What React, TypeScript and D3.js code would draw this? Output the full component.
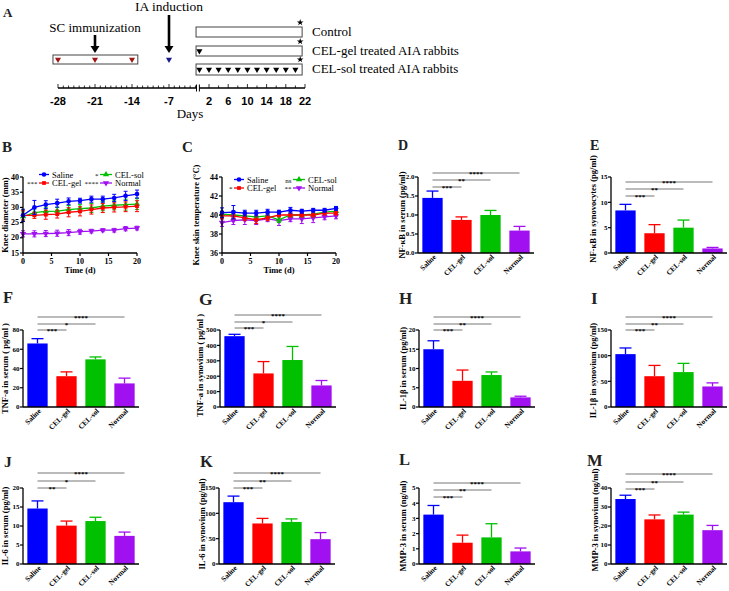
import * as d3 from 'd3'

const SERIF = '"Liberation Serif", "Times New Roman", serif'
const SANS = '"Liberation Sans", Arial, sans-serif'

// ---------- panel A: study timeline ----------
const IMMUNIZATION_DAYS = [-28, -21, -14]
const INDUCTION_DAYS = [-7]
const GEL_DOSE_DAYS = [0]
const SOL_DOSE_DAYS = [0, 2, 4, 6, 8, 10, 12, 14, 16, 18, 20]
const END_DAY = 21
const PRE_TICKS = [-28, -21, -14, -7]
const POST_TICKS = [2, 6, 10, 14, 18, 22]
const GROUPS_A = ['Control', 'CEL-gel treated AIA rabbits', 'CEL-sol treated AIA rabbits']

// ---------- panels B, C: time courses ----------
const SERIES = ['Saline', 'CEL-gel', 'CEL-sol', 'Normal']
const COLORS = ['#0000ff', '#ff0000', '#00c000', '#a010f0']
const TIME_D = [0, 2, 4, 6, 8, 10, 12, 14, 16, 18, 20]
const TIME_TICKS = [0, 5, 10, 15, 20]

const DIAM_SALINE = [27.4, 30.0, 30.9, 31.4, 32.0, 32.2, 32.7, 32.7, 33.1, 33.8, 34.4]
const DIAM_GEL = [27.4, 27.4, 27.6, 27.8, 28.4, 28.7, 29.3, 29.8, 30.0, 30.2, 30.4]
const DIAM_SOL = [27.0, 28.3, 28.7, 28.8, 29.3, 29.6, 29.8, 30.4, 30.7, 30.9, 31.1]
const DIAM_NORMAL = [21.3, 21.3, 21.4, 21.5, 21.7, 22.0, 22.2, 22.5, 22.5, 23.0, 23.2]
const DIAM_SALINE_ERR = [2.0, 2.3, 1.3, 1.3, 1.1, 0.8, 1.0, 1.0, 1.2, 1.5, 1.3]
const DIAM_GEL_ERR = [1.5, 1.0, 1.5, 1.3, 1.5, 1.5, 1.5, 1.5, 1.5, 1.6, 1.8]
const DIAM_SOL_ERR = [1.5, 1.2, 1.2, 1.2, 1.3, 1.3, 1.5, 1.5, 1.5, 1.8, 1.8]
const DIAM_NORMAL_ERR = [1.0, 1.0, 1.0, 1.0, 1.0, 0.8, 0.6, 0.5, 0.6, 0.7, 0.6]
const DIAM_TICKS = [15, 20, 25, 30, 35, 40]
const DIAM_SIG = ['', '***', '*', '****']

const TEMP_SALINE = [40.25, 40.3, 40.2, 40.2, 40.3, 40.3, 40.5, 40.4, 40.5, 40.5, 40.7]
const TEMP_GEL = [39.9, 39.9, 39.7, 39.5, 39.7, 40.0, 40.0, 40.0, 40.0, 40.2, 40.2]
const TEMP_SOL = [40.1, 40.0, 39.9, 39.8, 39.9, 39.5, 40.0, 40.0, 40.1, 40.3, 40.4]
const TEMP_NORMAL = [39.2, 39.4, 39.5, 39.4, 39.6, 39.4, 39.6, 39.6, 39.7, 39.8, 39.9]
const TEMP_SALINE_ERR = [0.5, 0.7, 0.3, 0.3, 0.3, 0.2, 0.3, 0.2, 0.2, 0.2, 0.2]
const TEMP_GEL_ERR = [0.3, 0.3, 0.3, 0.4, 0.3, 0.2, 0.2, 0.2, 0.2, 0.2, 0.2]
const TEMP_SOL_ERR = [0.3, 0.4, 0.4, 0.4, 0.3, 0.3, 0.2, 0.2, 0.3, 0.2, 0.2]
const TEMP_NORMAL_ERR = [0.4, 0.4, 0.5, 0.4, 0.3, 0.5, 0.3, 0.5, 0.5, 0.3, 0.3]
const TEMP_TICKS = [36, 38, 40, 42, 44]
const TEMP_SIG = ['', '*', 'ns', '**']

// ---------- panels D-M: bar charts ----------
const NFKB_SERUM = [1.45, 0.87, 1.0, 0.59]
const NFKB_SERUM_ERR = [0.18, 0.08, 0.12, 0.11]
const NFKB_SYN = [8.4, 3.9, 5.0, 0.9]
const NFKB_SYN_ERR = [1.2, 1.7, 1.5, 0.2]
const TNF_SERUM = [66, 32, 49.5, 24.5]
const TNF_SERUM_ERR = [5, 4.5, 2.5, 5.5]
const TNF_SYN = [460, 218, 305, 140]
const TNF_SYN_ERR = [12, 77, 88, 32]
const IL1_SERUM = [15, 6.8, 8.3, 2.5]
const IL1_SERUM_ERR = [2.2, 2.8, 0.8, 0.3]
const IL1_SYN = [103, 60, 68, 40]
const IL1_SYN_ERR = [12, 21, 17, 7]
const IL6_SERUM = [14.6, 10.1, 11.3, 7.4]
const IL6_SERUM_ERR = [2.0, 1.2, 1.0, 1.0]
const IL6_SYN = [122, 80, 83, 49]
const IL6_SYN_ERR = [12, 10, 6, 13]
const MMP3_SERUM = [3.25, 1.4, 1.75, 0.83]
const MMP3_SERUM_ERR = [0.6, 0.5, 0.9, 0.22]
const MMP3_SYN = [34.2, 23.5, 26, 17.8]
const MMP3_SYN_ERR = [2.0, 2.3, 1.3, 2.5]

const SIG_A = ['***', '**', '****']
const SIG_B = ['***', '*', '****']
const SIG_C = ['**', '*', '****']

const AXIS_W = 116

interface BarCfg {
  letter: string
  lx: number
  ly: number
  ls: number
  x: number
  y: number
  h: number
  title: string
  means: number[]
  errs: number[]
  ticks: number[]
  fmt: string
  sig: string[]
  sigY: number[]
  tdx: number
  tdy: number
}

const BAR_PANELS: BarCfg[] = [
  { letter: 'D', lx: 398, ly: 150, ls: 14, x: 418, y: 177, h: 76, title: 'NF-κB in serum (pg/ml)', means: NFKB_SERUM, errs: NFKB_SERUM_ERR, ticks: [0, 0.5, 1, 1.5, 2], fmt: '.1f', sig: SIG_A, sigY: [187, 180, 173], tdx: 13, tdy: 0 },
  { letter: 'E', lx: 590, ly: 150, ls: 14, x: 611, y: 177, h: 76, title: 'NF-κB in synovocytes (pg/ml)', means: NFKB_SYN, errs: NFKB_SYN_ERR, ticks: [0, 5, 10, 15], fmt: 'd', sig: SIG_A, sigY: [196, 189, 182], tdx: 15, tdy: -6 },
  { letter: 'F', lx: 3, ly: 303, ls: 16.5, x: 23, y: 330, h: 77, title: 'TNF-a in serum ( pg/ml )', means: TNF_SERUM, errs: TNF_SERUM_ERR, ticks: [0, 20, 40, 60, 80], fmt: 'd', sig: SIG_B, sigY: [330, 324, 317], tdx: 15, tdy: 0 },
  { letter: 'G', lx: 199, ly: 305, ls: 17.5, x: 220, y: 330, h: 77, title: 'TNF-a in synovium ( pg/ml )', means: TNF_SYN, errs: TNF_SYN_ERR, ticks: [0, 100, 200, 300, 400, 500], fmt: 'd', sig: SIG_B, sigY: [328, 322, 315], tdx: 17, tdy: -3 },
  { letter: 'H', lx: 399, ly: 304, ls: 17, x: 419, y: 330, h: 77, title: 'IL-1β in serum (pg/ml)', means: IL1_SERUM, errs: IL1_SERUM_ERR, ticks: [0, 5, 10, 15, 20], fmt: 'd', sig: SIG_A, sigY: [330, 324, 317], tdx: 13, tdy: 0 },
  { letter: 'I', lx: 591, ly: 304, ls: 17, x: 611, y: 330, h: 77, title: 'IL-1β in synovium (pg/ml)', means: IL1_SYN, errs: IL1_SYN_ERR, ticks: [0, 50, 100, 150], fmt: 'd', sig: SIG_A, sigY: [330, 324, 317], tdx: 15, tdy: 2 },
  { letter: 'J', lx: 4, ly: 467, ls: 15.5, x: 23, y: 488, h: 76, title: 'IL-6 in serum (pg/ml)', means: IL6_SERUM, errs: IL6_SERUM_ERR, ticks: [0, 5, 10, 15, 20], fmt: 'd', sig: SIG_C, sigY: [488, 481, 473], tdx: 15.5, tdy: 0 },
  { letter: 'K', lx: 200, ly: 467, ls: 16.5, x: 219, y: 488, h: 76, title: 'IL-6 in synovium (pg/ml)', means: IL6_SYN, errs: IL6_SYN_ERR, ticks: [0, 50, 100, 150], fmt: 'd', sig: SIG_A, sigY: [488, 481, 473], tdx: 14, tdy: -2 },
  { letter: 'L', lx: 399, ly: 465, ls: 16.5, x: 419, y: 488, h: 76, title: 'MMP-3 in serum (ng/ml)', means: MMP3_SERUM, errs: MMP3_SERUM_ERR, ticks: [0, 1, 2, 3, 4, 5], fmt: 'd', sig: SIG_A, sigY: [497, 490, 483], tdx: 13, tdy: 0 },
  { letter: 'M', lx: 587, ly: 466, ls: 16.5, x: 611, y: 488, h: 76, title: 'MMP-3 in synovium (ng/ml)', means: MMP3_SYN, errs: MMP3_SYN_ERR, ticks: [0, 10, 20, 30, 40], fmt: 'd', sig: SIG_A, sigY: [489, 482, 474], tdx: 13, tdy: -6 },
]

interface LineCfg {
  letter: string
  lx: number
  ly: number
  x: number
  y: number
  h: number
  title: string
  domain: [number, number]
  ticks: number[]
  values: number[][]
  errs: number[][]
  sig: string[]
  legendX: [number, number]
  legendY: [number, number]
  tdx: number
}

const LINE_PANELS: LineCfg[] = [
  { letter: 'B', lx: 2, ly: 152, x: 23, y: 177, h: 76, title: 'Knee diameter (mm)', domain: [15, 40], ticks: DIAM_TICKS, values: [DIAM_SALINE, DIAM_GEL, DIAM_SOL, DIAM_NORMAL], errs: [DIAM_SALINE_ERR, DIAM_GEL_ERR, DIAM_SOL_ERR, DIAM_NORMAL_ERR], sig: DIAM_SIG, legendX: [39, 100], legendY: [174.5, 183], tdx: 15 },
  { letter: 'C', lx: 182, ly: 152, x: 222, y: 177, h: 76, title: 'Knee skin temperature (°C)', domain: [36, 44], ticks: TEMP_TICKS, values: [TEMP_SALINE, TEMP_GEL, TEMP_SOL, TEMP_NORMAL], errs: [TEMP_SALINE_ERR, TEMP_GEL_ERR, TEMP_SOL_ERR, TEMP_NORMAL_ERR], sig: TEMP_SIG, legendX: [234, 293], legendY: [179.5, 188], tdx: 23 },
]

const SYMBOLS = [d3.symbolCircle, d3.symbolSquare, d3.symbolTriangle, d3.symbolTriangle]

function Marker({ i, cx, cy }: { i: number; cx: number; cy: number }) {
  const path = d3.symbol().type(SYMBOLS[i]).size(i === 1 ? 14 : 17)()
  const rot = i === 3 ? 180 : 0
  return <path d={path ?? ''} transform={`translate(${cx},${cy}) rotate(${rot})`} fill={COLORS[i]} />
}

function PanelLetter({ t, x, y, s = 15 }: { t: string; x: number; y: number; s?: number }) {
  return (
    <text x={x} y={y} fontFamily={SERIF} fontWeight="bold" fontSize={s} fill="#222">
      {t}
    </text>
  )
}

function YTitle({ t, x, y }: { t: string; x: number; y: number }) {
  return (
    <text transform={`translate(${x},${y}) rotate(-90)`} textAnchor="middle" fontFamily={SERIF} fontWeight="bold" fontSize={8.5}>
      {t}
    </text>
  )
}

function BarPanel({ p }: { p: BarCfg }) {
  const x = d3.scaleBand().domain(SERIES).range([p.x, p.x + AXIS_W]).paddingInner(0.3).paddingOuter(0.15)
  const y = d3.scaleLinear().domain([0, p.ticks[p.ticks.length - 1]]).range([p.y + p.h, p.y])
  const fmt = d3.format(p.fmt)
  const bw = x.bandwidth()
  const base = p.y + p.h
  const cx = (c: string) => (x(c) ?? 0) + bw / 2
  return (
    <g>
      <PanelLetter t={p.letter} x={p.lx} y={p.ly} s={p.ls} />
      {SERIES.map((c, i) => (
        <g key={c}>
          <rect x={x(c)} y={y(p.means[i])} width={bw} height={base - y(p.means[i])} fill={COLORS[i]} />
          <line x1={cx(c)} x2={cx(c)} y1={y(p.means[i])} y2={y(p.means[i] + p.errs[i])} stroke={COLORS[i]} strokeWidth={1.3} />
          <line x1={cx(c) - 6} x2={cx(c) + 6} y1={y(p.means[i] + p.errs[i])} y2={y(p.means[i] + p.errs[i])} stroke={COLORS[i]} strokeWidth={1.3} />
          <text transform={`translate(${cx(c) + 4},${base + 4.5}) rotate(-45)`} textAnchor="end" fontFamily={SERIF} fontWeight="bold" fontSize={7.3}>
            {c}
          </text>
        </g>
      ))}
      {p.sig.map((s, k) => {
        const target = SERIES[k + 1]
        const yy = p.sigY[k]
        return (
          <g key={k}>
            <line x1={cx(SERIES[0])} x2={cx(target)} y1={yy} y2={yy} stroke="#666" strokeWidth={0.9} />
            <text x={(cx(SERIES[0]) + cx(target)) / 2} y={yy + 2.5} textAnchor="middle" fontFamily={SERIF} fontWeight="bold" fontSize={7}>
              {s}
            </text>
          </g>
        )
      })}
      <line x1={p.x} x2={p.x} y1={p.y} y2={base} stroke="#000" strokeWidth={1.3} />
      <line x1={p.x} x2={p.x + AXIS_W} y1={base} y2={base} stroke="#000" strokeWidth={1.3} />
      {p.ticks.map((t) => (
        <g key={t}>
          <line x1={p.x - 3} x2={p.x} y1={y(t)} y2={y(t)} stroke="#000" strokeWidth={1.2} />
          <text x={p.x - 3.5} y={y(t)} dy="0.33em" textAnchor="end" fontFamily={SERIF} fontWeight="bold" fontSize={7}>
            {fmt(t)}
          </text>
        </g>
      ))}
      <YTitle t={p.title} x={p.x - p.tdx} y={p.y + p.h / 2 + p.tdy} />
    </g>
  )
}

function LinePanel({ p }: { p: LineCfg }) {
  const x = d3.scaleLinear().domain([0, 20]).range([p.x, p.x + 114])
  const y = d3.scaleLinear().domain(p.domain).range([p.y + p.h, p.y])
  const base = p.y + p.h
  const line = d3.line<number>().x((_, i) => x(TIME_D[i])).y((d) => y(d))
  const order = [3, 2, 1, 0]
  // legend: Saline & CEL-sol on first row, CEL-gel & Normal on second
  const slots = [
    { col: 0, row: 0 },
    { col: 0, row: 1 },
    { col: 1, row: 0 },
    { col: 1, row: 1 },
  ]
  return (
    <g>
      <PanelLetter t={p.letter} x={p.lx} y={p.ly} />
      {order.map((i) => (
        <g key={i}>
          <path d={line(p.values[i]) ?? ''} fill="none" stroke={COLORS[i]} strokeWidth={1.3} />
          {p.values[i].map((v, j) => {
            const xx = x(TIME_D[j])
            const hi = y(v + p.errs[i][j])
            const lo = y(v - p.errs[i][j])
            return (
              <g key={j}>
                <line x1={xx} x2={xx} y1={hi} y2={lo} stroke={COLORS[i]} strokeWidth={1} />
                <line x1={xx - 2} x2={xx + 2} y1={hi} y2={hi} stroke={COLORS[i]} strokeWidth={1} />
                <line x1={xx - 2} x2={xx + 2} y1={lo} y2={lo} stroke={COLORS[i]} strokeWidth={1} />
                <Marker i={i} cx={xx} cy={y(v)} />
              </g>
            )
          })}
        </g>
      ))}
      {SERIES.map((s, i) => {
        const lx = p.legendX[slots[i].col]
        const ly = p.legendY[slots[i].row]
        const len = slots[i].col === 0 ? 10 : 12
        return (
          <g key={s}>
            <line x1={lx} x2={lx + len} y1={ly} y2={ly} stroke={COLORS[i]} strokeWidth={1.3} />
            <Marker i={i} cx={lx + len / 2} cy={ly} />
            <text x={lx + len + 3} y={ly + 3} fontFamily={SERIF} fontSize={8.5}>
              {s}
            </text>
            {p.sig[i] && (
              <text x={lx - 1.5} y={ly + 3} textAnchor="end" fontFamily={SERIF} fontSize={7}>
                {p.sig[i]}
              </text>
            )}
          </g>
        )
      })}
      <line x1={p.x} x2={p.x} y1={p.y} y2={base} stroke="#000" strokeWidth={1.3} />
      <line x1={p.x} x2={p.x + 114} y1={base} y2={base} stroke="#000" strokeWidth={1.3} />
      {p.ticks.map((t) => (
        <g key={t}>
          <line x1={p.x - 3} x2={p.x} y1={y(t)} y2={y(t)} stroke="#000" strokeWidth={1.2} />
          <text x={p.x - 4} y={y(t)} dy="0.33em" textAnchor="end" fontFamily={SERIF} fontWeight="bold" fontSize={8}>
            {t}
          </text>
        </g>
      ))}
      {TIME_TICKS.map((t) => (
        <g key={t}>
          <line x1={x(t)} x2={x(t)} y1={base} y2={base + 3} stroke="#000" strokeWidth={1.2} />
          <text x={x(t)} y={base + 11} textAnchor="middle" fontFamily={SERIF} fontWeight="bold" fontSize={8}>
            {t}
          </text>
        </g>
      ))}
      <text x={p.x + 57} y={base + 20} textAnchor="middle" fontFamily={SERIF} fontWeight="bold" fontSize={8.5}>
        Time (d)
      </text>
      <YTitle t={p.title} x={p.x - p.tdx} y={p.y + p.h / 2} />
    </g>
  )
}

function Arrow({ x, y1, y2 }: { x: number; y1: number; y2: number }) {
  const head = 7
  return (
    <g>
      <line x1={x} x2={x} y1={y1} y2={y2 - head + 1} stroke="#000" strokeWidth={2.6} />
      <path d={`M${x - 4.5},${y2 - head}L${x + 4.5},${y2 - head}L${x},${y2}Z`} fill="#000" />
    </g>
  )
}

function Timeline() {
  const pre = d3.scaleLinear().domain([-28, -7]).range([58, 169])
  const post = d3.scaleLinear().domain([2, 22]).range([209, 305])
  const axisY = 88
  const rowsY = [27, 46, 64]
  const tri = d3.symbol().type(d3.symbolTriangle).size(16)() ?? ''
  const star = d3.symbol().type(d3.symbolStar).size(14)() ?? ''
  const preEnd = -1.8
  const postStart = 0
  return (
    <g>
      <text x={3} y={17} fontFamily={SERIF} fontWeight="bold" fontSize={13} fill="#222">A</text>
      <text x={95} y={32} textAnchor="middle" fontFamily={SERIF} fontSize={13}>SC immunization</text>
      <text x={169} y={11} textAnchor="middle" fontFamily={SERIF} fontSize={13.5}>IA induction</text>
      <Arrow x={pre(IMMUNIZATION_DAYS[1])} y1={35} y2={53} />
      <Arrow x={pre(INDUCTION_DAYS[0])} y1={15} y2={53} />
      <rect x={pre(-28.95)} y={55} width={pre(-12.9) - pre(-28.95)} height={9} fill="none" stroke="#444" strokeWidth={1} />
      {IMMUNIZATION_DAYS.map((d) => (
        <path key={d} d={tri} transform={`translate(${pre(d)},${59.5}) rotate(180)`} fill="#a01515" />
      ))}
      {INDUCTION_DAYS.map((d) => (
        <path key={d} d={tri} transform={`translate(${pre(d)},${59.5}) rotate(180)`} fill="#1a1a8c" />
      ))}
      {GROUPS_A.map((g, k) => (
        <g key={g}>
          <rect x={post(-0.7)} y={rowsY[k]} width={post(21.4) - post(-0.7)} height={k === 2 ? 11 : 10} fill="none" stroke="#444" strokeWidth={1} />
          <path d={star} transform={`translate(${post(END_DAY)},${rowsY[k] - 4.5})`} fill="#000" />
          <text x={312} y={rowsY[k] + 9} fontFamily={SERIF} fontSize={13}>{g}</text>
        </g>
      ))}
      {GEL_DOSE_DAYS.map((d) => (
        <path key={d} d={tri} transform={`translate(${post(d)},${rowsY[1] + 5}) rotate(180)`} fill="#000" />
      ))}
      {SOL_DOSE_DAYS.map((d) => (
        <path key={d} d={tri} transform={`translate(${post(d)},${rowsY[2] + 5.5}) rotate(180)`} fill="#000" />
      ))}
      <line x1={pre(-28)} x2={pre(preEnd)} y1={axisY} y2={axisY} stroke="#000" strokeWidth={1.3} />
      <line x1={post(postStart)} x2={post(22)} y1={axisY} y2={axisY} stroke="#000" strokeWidth={1.3} />
      <line x1={pre(preEnd)} x2={pre(preEnd)} y1={axisY - 3.5} y2={axisY + 3.5} stroke="#000" strokeWidth={1} />
      <line x1={post(postStart)} x2={post(postStart)} y1={axisY - 3.5} y2={axisY + 3.5} stroke="#000" strokeWidth={1} />
      {d3.range(-28, -1).map((d) => (
        <line key={d} x1={pre(d)} x2={pre(d)} y1={axisY} y2={axisY - (d % 7 === 0 ? 4 : 2.5)} stroke="#000" strokeWidth={0.8} />
      ))}
      {d3.range(2, 23, 2).map((d) => (
        <line key={d} x1={post(d)} x2={post(d)} y1={axisY} y2={axisY - ((d - 2) % 4 === 0 ? 4 : 2.5)} stroke="#000" strokeWidth={0.8} />
      ))}
      {PRE_TICKS.map((d) => (
        <text key={d} x={pre(d)} y={105} textAnchor="middle" fontFamily={SANS} fontWeight="bold" fontSize={11}>{d}</text>
      ))}
      {POST_TICKS.map((d) => (
        <text key={d} x={post(d)} y={105} textAnchor="middle" fontFamily={SANS} fontWeight="bold" fontSize={11}>{d}</text>
      ))}
      <text x={190} y={118} textAnchor="middle" fontFamily={SERIF} fontSize={13}>Days</text>
    </g>
  )
}

export default function App() {
  return (
    <div style={{ position: 'absolute', left: 0, top: 0 }}>
      <svg width={729} height={591} viewBox="0 0 729 591" style={{ display: 'block', background: '#fff' }}>
        <Timeline />
        {LINE_PANELS.map((p) => (
          <LinePanel key={p.letter} p={p} />
        ))}
        {BAR_PANELS.map((p) => (
          <BarPanel key={p.letter} p={p} />
        ))}
      </svg>
    </div>
  )
}
